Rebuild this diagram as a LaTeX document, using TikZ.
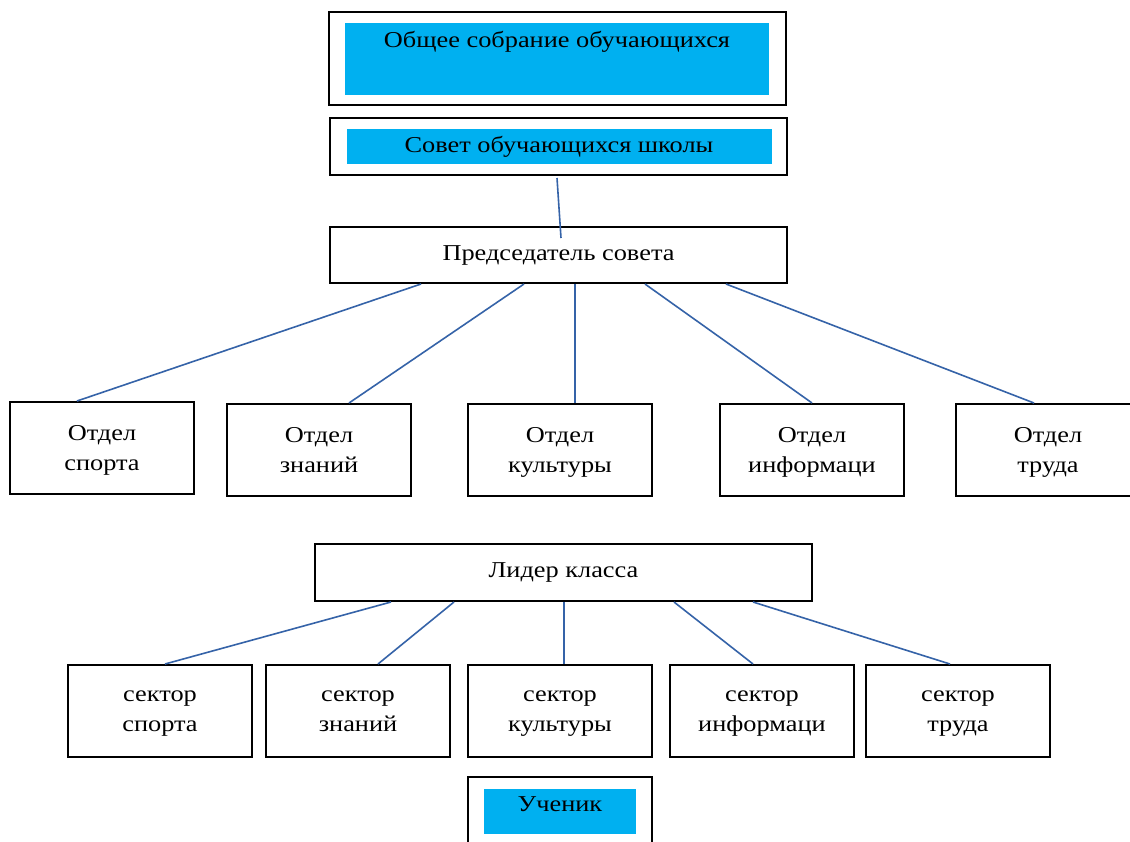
\documentclass[tikz,border=0pt]{standalone}
\usepackage{fontspec}
\setmainfont{Liberation Serif}[FakeStretch=1.16]
\definecolor{cyanfill}{HTML}{00B0F0}
\definecolor{linkblue}{HTML}{3563A8}
\newcommand{\diagfont}{\fontsize{22.7}{30}\selectfont}
\begin{document}
\begin{tikzpicture}[x=1pt,y=-1pt,
  box/.style={draw=black, line width=2pt, inner sep=0pt, fill=white},
  cyanbox/.style={fill=cyanfill, draw=none, inner sep=0pt},
  lbl/.style={font=\diagfont, align=center, inner sep=0pt},
  unitbox/.style={box, minimum width=184pt, minimum height=92pt, font=\diagfont, align=center, text depth=-2pt},
  link/.style={draw=linkblue, line width=1.6pt}]
\clip (0,0) rectangle (1130,841);
\fill[white] (0,0) rectangle (1130,841);

% top boxes
\node[box, minimum width=457pt, minimum height=93pt] (obshee) at (557.5,58.5) {};
\node[cyanbox, minimum width=424pt, minimum height=72pt] (obshee-in) at (557,59) {};
\node[lbl] (obshee-t) at (557,42) {Общее собрание обучающихся};

\node[box, minimum width=457pt, minimum height=57pt] (sovet) at (558.5,146.5) {};
\node[cyanbox, minimum width=425pt, minimum height=35pt] (sovet-in) at (559.5,146.5) {};
\node[lbl] (sovet-t) at (559,147) {Совет обучающихся школы};

\node[box, minimum width=457pt, minimum height=56pt, font=\diagfont] (pred) at (558.5,255) {Председатель совета};

% departments
\node[unitbox] (o1) at (102,448) {Отдел\\спорта};
\node[unitbox] (o2) at (319,450) {Отдел\\знаний};
\node[unitbox] (o3) at (560,450) {Отдел\\культуры};
\node[unitbox] (o4) at (812,450) {Отдел\\информаци};
\node[unitbox] (o5) at (1048,450) {Отдел\\труда};

% class leader
\node[box, minimum width=497pt, minimum height=57pt, font=\diagfont] (lider) at (563.5,572.5) {Лидер класса};

% sectors
\node[unitbox] (s1) at (160,711) {сектор\\спорта};
\node[unitbox] (s2) at (358,711) {сектор\\знаний};
\node[unitbox] (s3) at (560,711) {сектор\\культуры};
\node[unitbox] (s4) at (762,711) {сектор\\информаци};
\node[unitbox] (s5) at (958,711) {сектор\\труда};

% pupil
\node[box, minimum width=184pt, minimum height=92pt] (uchenik) at (560,823) {};
\node[cyanbox, minimum width=152pt, minimum height=45pt] (uchenik-in) at (560,811.5) {};
\node[lbl] (uchenik-t) at (560,804) {Ученик};

% connectors
\draw[link] ([xshift=-1.5pt,yshift=-2pt]sovet.south) -- ([xshift=2.5pt,yshift=-12pt]pred.north);

\draw[link] ([xshift=-137.5pt]pred.south) -- ([xshift=-25pt]o1.north);
\draw[link] ([xshift=-34.5pt]pred.south) -- ([xshift=30pt]o2.north);
\draw[link] ([xshift=16.5pt]pred.south) -- ([xshift=15pt]o3.north);
\draw[link] ([xshift=86.5pt]pred.south) -- ([xshift=0pt]o4.north);
\draw[link] ([xshift=167.5pt]pred.south) -- ([xshift=-14pt]o5.north);

\draw[link] ([xshift=-172.5pt]lider.south) -- ([xshift=5pt]s1.north);
\draw[link] ([xshift=-109.5pt]lider.south) -- ([xshift=20pt]s2.north);
\draw[link] ([xshift=0.5pt]lider.south) -- ([xshift=4pt]s3.north);
\draw[link] ([xshift=110.5pt]lider.south) -- ([xshift=-9pt]s4.north);
\draw[link] ([xshift=189.5pt]lider.south) -- ([xshift=-8pt]s5.north);
\end{tikzpicture}
\end{document}
